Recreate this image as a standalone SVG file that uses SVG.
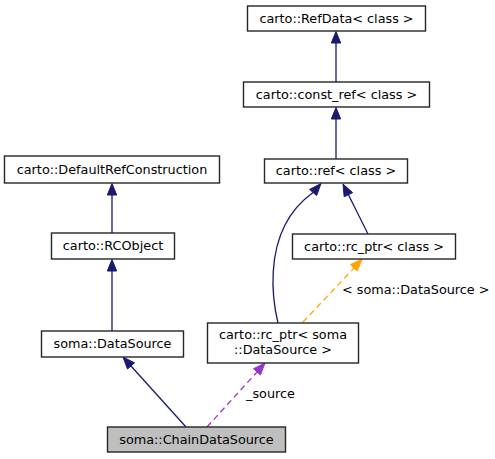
<svg xmlns="http://www.w3.org/2000/svg" width="495" height="459" viewBox="0 0 495 459">
<style>
.box{fill:#ffffff;stroke:#262626;stroke-width:1.4}
.sel{fill:#bfbfbf;stroke:#262626;stroke-width:1.4}
text{font-family:"DejaVu Sans","Liberation Sans",sans-serif;font-size:12.8px;fill:#000}
.c{text-anchor:middle}
.blue{stroke:#191970;stroke-width:1.3;fill:none}
.blueh{fill:#191970;stroke:#191970}
.orange{stroke:#ffa500;stroke-width:1.3;fill:none;stroke-dasharray:6,4}
.orangeh{fill:#ffa500;stroke:#ffa500}
.purple{stroke:#9a32cd;stroke-width:1.3;fill:none;stroke-dasharray:6,4}
.purpleh{fill:#9a32cd;stroke:#9a32cd}
</style>
<rect width="495" height="459" fill="#ffffff"/>
<g id="connectors">
<path class="blue" d="M336,82 V43"/>
<polygon class="blueh" points="340.7,43 336,31.5 331.3,43"/>
<path class="blue" d="M336,159 V119"/>
<polygon class="blueh" points="340.7,119 336,107.5 331.3,119"/>
<path class="blue" d="M112,233 V195"/>
<polygon class="blueh" points="116.7,195 112,183.5 107.3,195"/>
<path class="blue" d="M112,331 V271"/>
<polygon class="blueh" points="116.7,271 112,259.5 107.3,271"/>
<path class="blue" d="M186,427 L131,366"/>
<polygon class="blueh" points="134.5,362.8 123,357 127.5,369"/>
<path class="purple" d="M207,427 L257,372"/>
<polygon class="purpleh" points="260.4,375 265,363 253.5,368.7"/>
<text x="246" y="398">_source</text>
<path class="orange" d="M303,322 L354,268"/>
<polygon class="orangeh" points="357.2,271 362,259 350.4,264.6"/>
<text x="342" y="294">&lt; soma::DataSource &gt;</text>
<path class="blue" d="M368,234 L348.4,194.7"/>
<polygon class="blueh" points="352.6,192.6 343,184 344.2,196.8"/>
<path class="blue" d="M278,323 C270,290 271,252 285,225 C291,213 300,202 313,192.5"/>
<polygon class="blueh" points="316.6,195.6 321,183.5 309.6,189.4"/>
</g>
<g id="node-refdata">
<rect class="box" x="247.5" y="6" width="178" height="25"/>
<text class="c" x="336.5" y="23">carto::RefData&lt; class &gt;</text>
</g>
<g id="node-const-ref">
<rect class="box" x="243.5" y="82" width="186" height="25"/>
<text class="c" x="336.5" y="99">carto::const_ref&lt; class &gt;</text>
</g>
<g id="node-ref">
<rect class="box" x="264.5" y="159" width="143" height="24"/>
<text class="c" x="336" y="175">carto::ref&lt; class &gt;</text>
</g>
<g id="node-default-ref-construction">
<rect class="box" x="4.5" y="156" width="215" height="27"/>
<text class="c" x="112" y="174">carto::DefaultRefConstruction</text>
</g>
<g id="node-rcobject">
<rect class="box" x="51.5" y="233" width="123" height="26"/>
<text class="c" x="113" y="250">carto::RCObject</text>
</g>
<g id="node-datasource">
<rect class="box" x="41.5" y="331" width="142" height="26"/>
<text class="c" x="112.5" y="348">soma::DataSource</text>
</g>
<g id="node-rc-ptr-class">
<rect class="box" x="292.5" y="234" width="163" height="25"/>
<text class="c" x="374" y="251">carto::rc_ptr&lt; class &gt;</text>
</g>
<g id="node-rc-ptr-datasource">
<rect class="box" x="207.5" y="323" width="151" height="40"/>
<text class="c" x="283" y="339">carto::rc_ptr&lt; soma</text>
<text class="c" x="283" y="354">::DataSource &gt;</text>
</g>
<g id="node-chain-datasource">
<rect class="sel" x="107.5" y="427" width="178" height="25"/>
<text class="c" x="196.5" y="444">soma::ChainDataSource</text>
</g>
</svg>
